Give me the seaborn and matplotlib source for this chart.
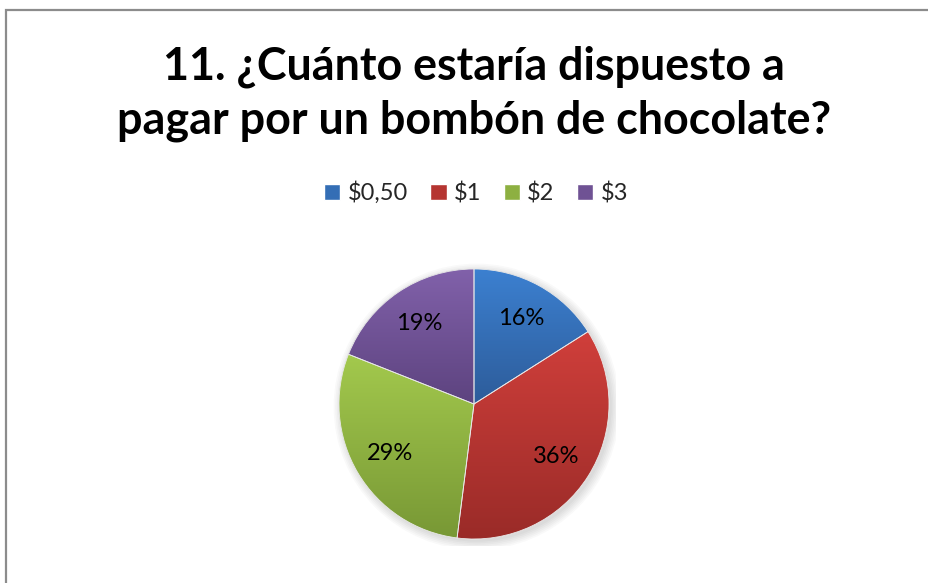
import matplotlib
matplotlib.use("Agg")
import matplotlib.pyplot as plt
import numpy as np
import seaborn as sns
from matplotlib.colors import LinearSegmentedColormap
from matplotlib.patches import Rectangle, Circle, PathPatch

# Survey answers
categories = ["$0,50", "$1", "$2", "$3"]
shares = [16, 36, 29, 19]
title_lines = ["11. ¿Cuánto estaría dispuesto a", "pagar por un bombón de chocolate?"]

# Light (top) and dark (bottom) shade of each slice
top_colors = ["#3c80d0", "#d03f3b", "#a3c94d", "#8161aa"]
bottom_colors = ["#2d5c9a", "#9a2b28", "#789835", "#5d437f"]

sns.set_theme(style="white")
plt.rcParams["font.family"] = ["Lato", "DejaVu Sans"]

W, H = 929, 583
fig = plt.figure(figsize=(W / 100, H / 100), dpi=100)
fig.patch.set_facecolor("white")

# chart frame
fig.add_artist(Rectangle((6 / W, -0.1), 1.2, (H - 10) / H + 0.1,
                         transform=fig.transFigure, fill=False,
                         edgecolor="#8c8c8c", linewidth=1.6))

# two-line title, placed on baselines
for line, base in zip(title_lines, [79, 134]):
    fig.text(474 / W, 1 - base / H, line, ha="center", va="baseline",
             fontsize=32.3, fontweight="bold", color="black")

# pie axes: square box centered on the pie
cx, cy, r = 474, 404, 135
lim = 1.05
ax = fig.add_axes([(cx - r * lim) / W, (H - cy - r * lim) / H,
                   2 * r * lim / W, 2 * r * lim / H])

# soft shadow under the pie
for k in range(6):
    ax.add_patch(Circle((0.02, -0.02), 1.0 + 0.012 * k, facecolor="black",
                        alpha=0.025, edgecolor="none", zorder=0))

mid_colors = [sns.blend_palette([t, b], 3)[1] for t, b in zip(top_colors, bottom_colors)]
wedges, texts, autotexts = ax.pie(
    shares, startangle=90, counterclock=False, radius=1.0,
    colors=mid_colors, autopct="%1.0f%%", pctdistance=0.72,
    wedgeprops=dict(edgecolor="#e8e8e8", linewidth=0.6),
    textprops=dict(fontsize=17, color="black"))

# vertical gradient fill clipped to each slice
grad = np.linspace(0, 1, 256).reshape(-1, 1)
for w, t, b in zip(wedges, top_colors, bottom_colors):
    ext = w.get_path().get_extents()
    cmap = LinearSegmentedColormap.from_list("g", [b, t])
    im = ax.imshow(grad, extent=[ext.x0, ext.x1, ext.y0, ext.y1],
                   origin="lower", cmap=cmap, aspect="auto",
                   interpolation="bilinear", zorder=w.get_zorder() + 0.1)
    im.set_clip_path(w)
    # keep the slice outline above the gradient
    ax.add_patch(PathPatch(w.get_path(), facecolor="none", edgecolor="#e8e8e8",
                           linewidth=0.6, zorder=w.get_zorder() + 0.2))
for t in autotexts:
    t.set_zorder(5)

ax.set_xlim(-lim, lim)
ax.set_ylim(-lim, lim)
ax.set_aspect("equal")
ax.axis("off")

handles = [Rectangle((0, 0), 1, 1, facecolor=c) for c in mid_colors]
fig.legend(handles, categories, loc="center", bbox_to_anchor=(476 / W, 1 - 193 / H),
           ncol=4, frameon=False, fontsize=17, handlelength=0.7, handleheight=0.7,
           handletextpad=0.3, columnspacing=0.95, borderaxespad=0)

fig.savefig("out.png", dpi=100, facecolor="white")
